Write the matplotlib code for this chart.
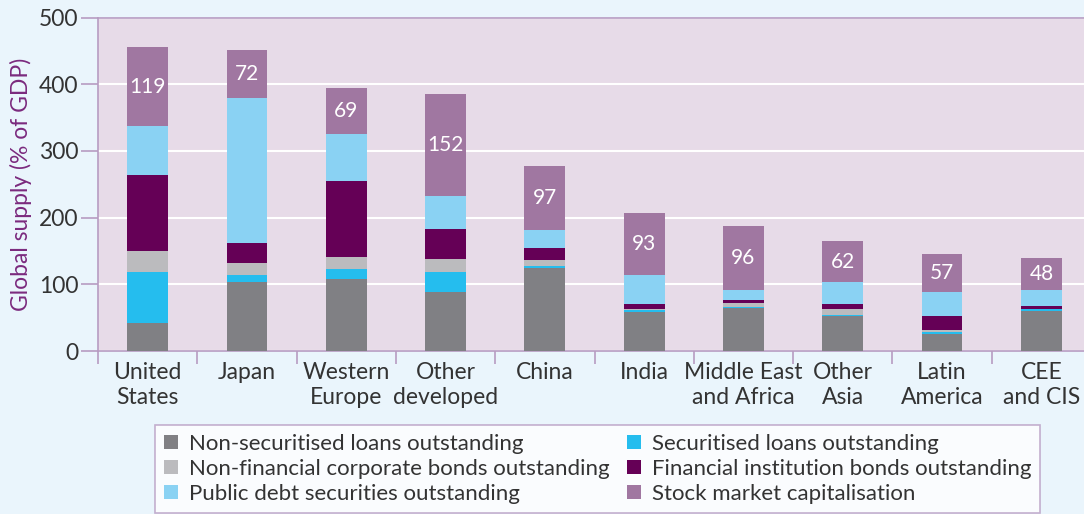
import matplotlib.pyplot as plt
import numpy as np
from matplotlib.patches import Patch

plt.rcParams['font.family'] = ['Lato', 'DejaVu Sans']

# data, % of GDP
regions = ['United\nStates', 'Japan', 'Western\nEurope', 'Other\ndeveloped', 'China',
           'India', 'Middle East\nand Africa', 'Other\nAsia', 'Latin\nAmerica', 'CEE\nand CIS']
non_sec_loans = [42, 104, 108, 89, 125, 58, 64, 52, 25, 60]
sec_loans = [76, 10, 15, 30, 3, 4, 2, 2, 3, 3]
nonfin_bonds = [32, 18, 18, 19, 9, 1, 6, 9, 3, 0.5]
fin_bonds = [114, 30, 114, 45, 17, 7, 5, 7, 21, 4]
public_debt = [73, 218, 70, 50, 27, 44, 15, 33, 36, 24]
stock_cap = [119, 72, 69, 152, 97, 93, 96, 62, 57, 48]

series = [
    ('Non-securitised loans outstanding', non_sec_loans, '#808084'),
    ('Securitised loans outstanding', sec_loans, '#25bdee'),
    ('Non-financial corporate bonds outstanding', nonfin_bonds, '#bbbbbe'),
    ('Financial institution bonds outstanding', fin_bonds, '#650056'),
    ('Public debt securities outstanding', public_debt, '#8ad2f3'),
    ('Stock market capitalisation', stock_cap, '#a077a1'),
]

edge = '#b79cc2'
fig = plt.figure(figsize=(10.84, 5.14), dpi=100, facecolor='#eaf5fc')
ax = fig.add_axes([98/1084, 1-351/514, 993/1084, (351-17.5)/514])
ax.set_facecolor('#e7dbe8')

x = np.arange(len(regions))
bottom = np.zeros(len(regions))
for name, vals, col in series:
    ax.bar(x, vals, width=0.41, bottom=bottom, color=col, zorder=3)
    bottom += np.array(vals)

# labels on stock segment
for i, v in enumerate(stock_cap):
    ax.text(x[i], bottom[i] - v/2, str(v), ha='center', va='center',
            color='white', fontsize=15, zorder=4)

ax.set_xlim(-0.5, len(regions) - 0.5)
ax.set_ylim(0, 500)
ax.set_yticks([0, 100, 200, 300, 400, 500])
ax.yaxis.grid(True, color='white', linewidth=1.5, zorder=1)
ax.set_axisbelow(True)

ax.set_xticks(x)
ax.set_xticklabels(regions, fontsize=16.5, color='#333333', linespacing=1.2)
ax.set_xticks(np.arange(-0.5, len(regions)), minor=True)
ax.tick_params(axis='x', which='major', length=0, pad=8)
ax.tick_params(axis='x', which='minor', length=9, color=edge, width=1.2)
ax.tick_params(axis='y', length=12, color=edge, width=1.2, labelsize=16.5,
               labelcolor='#333333', pad=2)

for s in ['left', 'bottom', 'top']:
    ax.spines[s].set_color(edge)
    ax.spines[s].set_linewidth(1.2)
ax.spines['right'].set_visible(False)

ax.set_ylabel('Global supply (% of GDP)', color='#7b2a7e', fontsize=16.5, labelpad=5)

handles = [Patch(facecolor=c, edgecolor='none', label=n) for n, _, c in series]
order = [0, 2, 4, 1, 3, 5]
leg = fig.legend([handles[i] for i in order], [series[i][0] for i in order],
                 loc='upper left', bbox_to_anchor=(155/1084, 1-425/514), ncol=2,
                 fontsize=16, frameon=True, fancybox=False, handlelength=0.62,
                 handleheight=0.62, handletextpad=0.5, columnspacing=0.8,
                 labelspacing=0.22, borderpad=0.4, borderaxespad=0)
leg.get_frame().set_edgecolor(edge)
leg.get_frame().set_facecolor('white')
leg.get_frame().set_linewidth(1.2)
for t in leg.get_texts():
    t.set_color('#333333')

fig.savefig('out.png', dpi=100, facecolor=fig.get_facecolor())
